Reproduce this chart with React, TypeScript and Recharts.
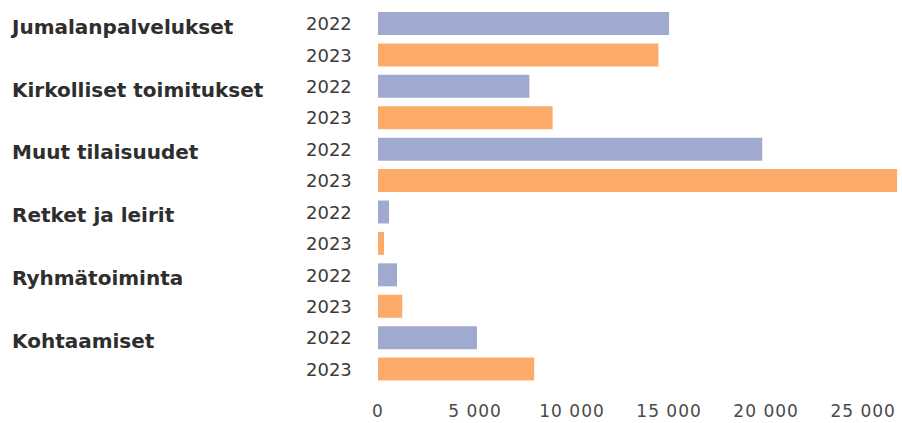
import React from 'react';
import { BarChart, Bar, XAxis, YAxis, Cell } from 'recharts';

const categories = ['Jumalanpalvelukset', 'Kirkolliset toimitukset', 'Muut tilaisuudet', 'Retket ja leirit', 'Ryhmätoiminta', 'Kohtaamiset'];
const years = ['2022', '2023'];
const values2022 = [15000, 7800, 19800, 570, 980, 5100];
const values2023 = [14450, 9000, 26750, 310, 1250, 8050];
const xTicks = [0, 5000, 10000, 15000, 20000, 25000];
const xTickLabels = ['0', '5 000', '10 000', '15 000', '20 000', '25 000'];

const yearColors: Record<string, string> = { '2022': '#a0a9d0', '2023': '#fcab6a' };

const rows = categories.flatMap((c, i) => [
  { key: `${c}-${years[0]}`, category: c, year: years[0], value: values2022[i] },
  { key: `${c}-${years[1]}`, category: c, year: years[1], value: values2023[i] },
]);

const FONT = '"DejaVu Sans", Verdana, sans-serif';

const YTick = (props: any) => {
  const { y, payload } = props;
  const row = rows[payload.index] || rows.find((r) => r.key === payload.value);
  if (!row) return null;
  return (
    <g>
      {row.year === years[0] && (
        <text x={12} y={y + 3} dominantBaseline="central" fontFamily={FONT} fontWeight={700} fontSize={20} fill="#2e2e2e">
          {row.category}
        </text>
      )}
      <text x={306} y={y} dominantBaseline="central" fontFamily={FONT} fontSize={18} fill="#3c3c3c">
        {row.year}
      </text>
    </g>
  );
};

export default function App() {
  return (
    <div style={{ position: 'absolute', left: 0, top: 0, background: '#fff' }}>
      <BarChart
        width={902}
        height={423}
        data={rows}
        layout="vertical"
        margin={{ top: 8, right: 2, bottom: 0, left: 0 }}
        barSize={23}
      >
        <XAxis
          type="number"
          domain={[0, 26900]}
          ticks={xTicks}
          tickFormatter={(v: number) => xTickLabels[xTicks.indexOf(v)] ?? String(v)}
          axisLine={false}
          tickLine={false}
          tickSize={0}
          tickMargin={20}
          height={38}
          interval={0}
          tick={{ fontFamily: FONT, fontSize: 17, fill: '#4a4a4a', letterSpacing: 1 }}
        />
        <YAxis
          type="category"
          dataKey="key"
          width={378}
          axisLine={false}
          tickLine={false}
          interval={0}
          tick={<YTick />}
        />
        <Bar dataKey="value" isAnimationActive={false}>
          {rows.map((r) => (
            <Cell key={r.key} fill={yearColors[r.year]} />
          ))}
        </Bar>
      </BarChart>
    </div>
  );
}
